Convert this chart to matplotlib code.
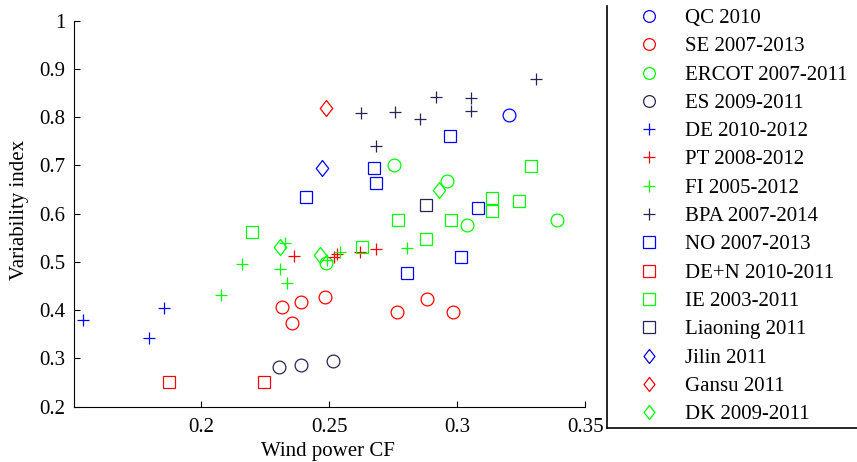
import matplotlib
matplotlib.use("Agg")
import matplotlib.pyplot as plt
from matplotlib.lines import Line2D
from matplotlib.path import Path
from matplotlib.ticker import FormatStrFormatter, FuncFormatter

plt.rcParams['font.family'] = ['Liberation Serif', 'DejaVu Serif']
plt.rcParams['font.size'] = 15

BLUE = (0, 0, 1)
RED = (1, 0, 0)
GREEN = (0, 1, 0)
NAVY = (0.15, 0.15, 0.33)

# ---- data (Wind power CF, Variability index) ----
qc_x = [0.320]
qc_y = [0.805]
se_x = [0.2315, 0.2387, 0.2352, 0.2481, 0.2763, 0.2882, 0.2981]
se_y = [0.407, 0.418, 0.374, 0.427, 0.396, 0.424, 0.396]
ercot_x = [0.2752, 0.2958, 0.3036, 0.3388, 0.2487]
ercot_y = [0.701, 0.667, 0.577, 0.586, 0.498]
es_x = [0.2303, 0.2387, 0.2514]
es_y = [0.283, 0.286, 0.295]
de_x = [0.1537, 0.1853, 0.1794]
de_y = [0.380, 0.404, 0.342]
pt_x = [0.2360, 0.2517, 0.2530, 0.2618, 0.2683]
pt_y = [0.513, 0.510, 0.516, 0.521, 0.526]
fi_x = [0.2075, 0.2159, 0.2305, 0.2335, 0.2328, 0.2543, 0.2805, 0.2490]
fi_y = [0.432, 0.495, 0.485, 0.457, 0.540, 0.520, 0.528, 0.505]
bpa_x = [0.2623, 0.2758, 0.2853, 0.2917, 0.3053, 0.3053, 0.3306, 0.2681]
bpa_y = [0.808, 0.810, 0.797, 0.841, 0.839, 0.813, 0.879, 0.741]
no_x = [0.2410, 0.2675, 0.2681, 0.2970, 0.3081, 0.3016, 0.2805]
no_y = [0.635, 0.695, 0.664, 0.761, 0.611, 0.511, 0.477]
den_x = [0.1873, 0.2245]
den_y = [0.252, 0.252]
ie_x = [0.2198, 0.2628, 0.2769, 0.2876, 0.2976, 0.3135, 0.3135, 0.3240, 0.3287]
ie_y = [0.562, 0.530, 0.586, 0.548, 0.586, 0.633, 0.606, 0.626, 0.698]
liaoning_x = [0.2876]
liaoning_y = [0.617]
jilin_x = [0.2470]
jilin_y = [0.695]
gansu_x = [0.2487]
gansu_y = [0.820]
dk_x = [0.2306, 0.2464, 0.2929]
dk_y = [0.532, 0.515, 0.649]

labels = ['QC 2010', 'SE 2007-2013', 'ERCOT 2007-2011', 'ES 2009-2011',
          'DE 2010-2012', 'PT 2008-2012', 'FI 2005-2012', 'BPA 2007-2014',
          'NO 2007-2013', 'DE+N 2010-2011', 'IE 2003-2011', 'Liaoning 2011',
          'Jilin 2011', 'Gansu 2011', 'DK 2009-2011']
xs = [qc_x, se_x, ercot_x, es_x, de_x, pt_x, fi_x, bpa_x, no_x, den_x, ie_x,
      liaoning_x, jilin_x, gansu_x, dk_x]
ys = [qc_y, se_y, ercot_y, es_y, de_y, pt_y, fi_y, bpa_y, no_y, den_y, ie_y,
      liaoning_y, jilin_y, gansu_y, dk_y]

diamond = Path([(0, 1), (0.78, 0), (0, -1), (-0.78, 0), (0, 1)],
               [Path.MOVETO, Path.LINETO, Path.LINETO, Path.LINETO, Path.CLOSEPOLY])
styles = [('o', BLUE), ('o', RED), ('o', GREEN), ('o', NAVY),
          ('+', BLUE), ('+', RED), ('+', GREEN), ('+', NAVY),
          ('s', BLUE), ('s', RED), ('s', GREEN), ('s', NAVY),
          (diamond, BLUE), (diamond, RED), (diamond, GREEN)]
sizes = {'o': 9.2, '+': 9.2, 's': 9.0}

fig = plt.figure(figsize=(8.57, 4.62), dpi=100)
ax = fig.add_axes([0.0858, 0.1197, 0.5972, 0.8355])

for x, y, (m, c) in zip(xs, ys, styles):
    ms = sizes.get(m, 11.5) if isinstance(m, str) else 11.5
    ax.plot(x, y, linestyle='none', marker=m, markersize=ms,
            markerfacecolor='none', markeredgecolor=c, markeredgewidth=0.9)

ax.set_xlim(0.15, 0.35)
ax.set_ylim(0.2, 1.0)
ax.set_xticks([0.2, 0.25, 0.3, 0.35])
ax.set_yticks([0.2, 0.3, 0.4, 0.5, 0.6, 0.7, 0.8, 0.9, 1.0])
ax.xaxis.set_major_formatter(FuncFormatter(lambda v, p: f'{v:g}'))
ax.yaxis.set_major_formatter(FuncFormatter(lambda v, p: f'{v:g}'))
ax.tick_params(direction='in', length=4, width=0.8, pad=6, labelsize=15)
ax.tick_params(axis='x', pad=8)
for s in ['top', 'right']:
    ax.spines[s].set_visible(False)
for s in ['left', 'bottom']:
    ax.spines[s].set_linewidth(0.8)

ax.set_xlabel('Wind power CF', fontsize=15)
ax.set_ylabel('Variability index', fontsize=15)
ax.xaxis.set_label_coords(0.497, -0.115)
ax.xaxis.label.set_va('center')
ax.yaxis.set_label_coords(-0.106, 0.51)
ax.yaxis.label.set_va('center')

# ---- legend (drawn in figure coordinates) ----
W, H = 857.0, 462.0
fig.add_artist(Line2D([606.7 / W, 606.7 / W], [1 - 6 / H, 1 - 428 / H],
                      transform=fig.transFigure, color='black', lw=1.2))
fig.add_artist(Line2D([606.7 / W, 1.0], [1 - 428 / H, 1 - 428 / H],
                      transform=fig.transFigure, color='black', lw=1.2))
for i, (lab, (m, c)) in enumerate(zip(labels, styles)):
    yp = 1 - (16.0 + 28.3 * i) / H
    ms = sizes.get(m, 11.0) if isinstance(m, str) else 11.0
    fig.add_artist(Line2D([649 / W], [yp], transform=fig.transFigure,
                          linestyle='none', marker=m, markersize=ms * 0.92,
                          markerfacecolor='none', markeredgecolor=c,
                          markeredgewidth=0.9))
    fig.text(685 / W, yp, lab, va='center_baseline', ha='left', fontsize=15)

fig.savefig('out.png', dpi=100)
